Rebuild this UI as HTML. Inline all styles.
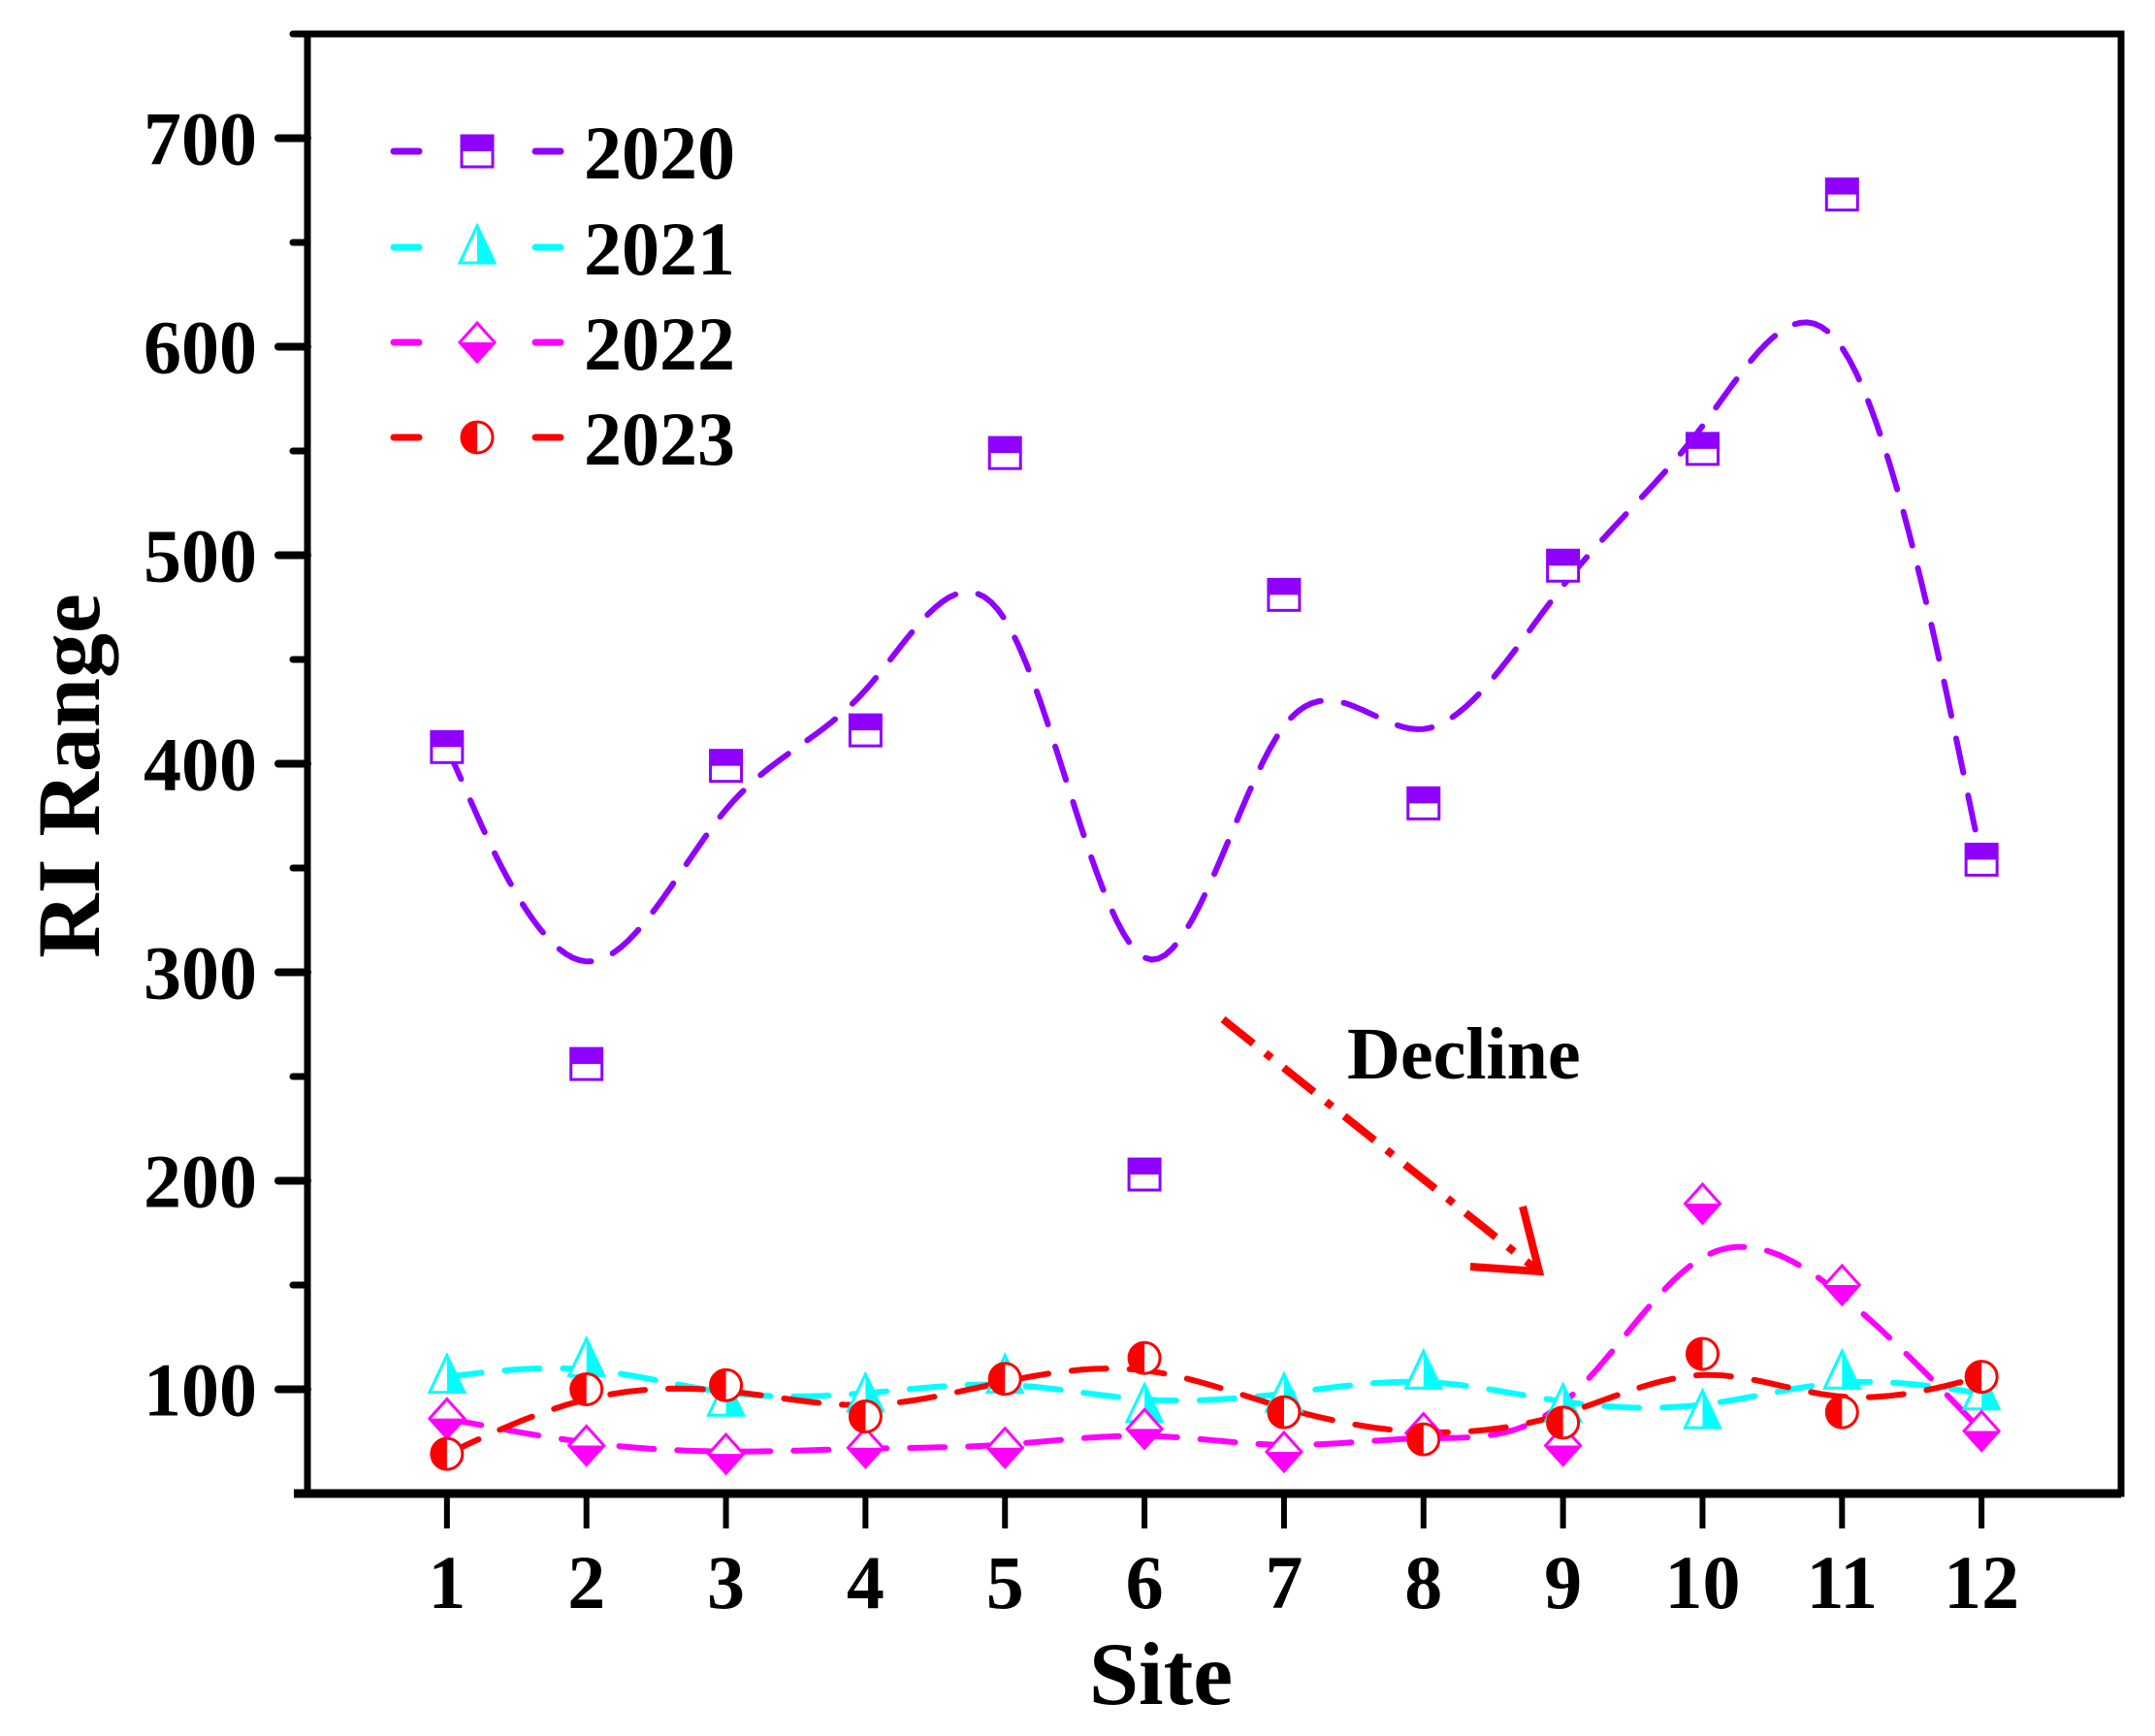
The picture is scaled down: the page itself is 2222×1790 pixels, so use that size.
<!DOCTYPE html>
<html><head><meta charset="utf-8"><style>
html,body{margin:0;padding:0;background:#fff;}
svg{display:block;}
text{font-family:"Liberation Serif",serif;font-weight:bold;fill:#000;}
</style></head><body>
<svg id="chart" width="2222" height="1790" viewBox="0 0 2222 1790" xmlns="http://www.w3.org/2000/svg">
<g id="lines"></g>
<g id="markers"></g>
<g id="axes"></g>
<g id="legend"></g>
<g id="annot">
  <line x1="1261" y1="1051" x2="1583" y2="1308" stroke="#f00" stroke-width="8" stroke-dasharray="40,16,8,16"/>
  <polyline points="1570,1244 1587,1311 1516,1306" fill="none" stroke="#f00" stroke-width="8"/>
  <text x="1389" y="1112" font-size="76">Decline</text>
</g>
</svg>
<script>
const sites = [1,2,3,4,5,6,7,8,9,10,11,12];
const years = ["2020","2021","2022","2023"];
const v2020 = [408,256,399,416,549,203,481,381,495,551,673,354];
const v2021 = [106,114,95,97,106,92,97,108,92,89,108,98];
const v2022 = [86,73,69,72,72,81,70,79,73,189,150,80];
const v2023 = [69,100,102,87,105,115,89,76,84,117,89,106];
const yTicks = [100,200,300,400,500,600,700];
const yMinor = [150,250,350,450,550,650];

const NS="http://www.w3.org/2000/svg";
const L=317,R=2187,T=35,B=1540;
const X0=0,X1=13,Y0=50,Y1=750;
const sx=v=>L+(v-X0)/(X1-X0)*(R-L);
const sy=v=>B-(v-Y0)/(Y1-Y0)*(B-T);
function mk(tag,attrs,parent){const e=document.createElementNS(NS,tag);for(const k in attrs)e.setAttribute(k,attrs[k]);parent.appendChild(e);return e;}
const colors=["#8f00ff","#00ffff","#ff00ff","#ff0000"];
const series=[v2020,v2021,v2022,v2023];
const shapes=["square","triangle","diamond","circle"];
const gl=document.getElementById('lines'),gm=document.getElementById('markers'),ga=document.getElementById('axes'),gleg=document.getElementById('legend');

function bspline(vals){
  const P=[vals[0],vals[0],...vals,vals[vals.length-1],vals[vals.length-1]];
  const X=[sites[0],sites[0],...sites,sites[sites.length-1],sites[sites.length-1]];
  let d="";
  for(let i=0;i<P.length-3;i++){
    for(let s=0;s<=20;s++){
      const t=s/20,t2=t*t,t3=t2*t;
      const b0=(1-t)**3/6,b1=(3*t3-6*t2+4)/6,b2=(-3*t3+3*t2+3*t+1)/6,b3=t3/6;
      const x=b0*X[i]+b1*X[i+1]+b2*X[i+2]+b3*X[i+3];
      const y=b0*P[i]+b1*P[i+1]+b2*P[i+2]+b3*P[i+3];
      d+=(d?"L":"M")+sx(x).toFixed(1)+","+sy(y).toFixed(1);
    }
  }
  return d;
}
function marker(shape,cx,cy,c,parent,name){
  const g=mk('g',{},parent);
  
  
  const r=16;
  if(shape==="square"){
    mk('rect',{x:cx-r,y:cy-r,width:2*r,height:2*r,fill:"#fff",stroke:c,"stroke-width":3},g);
    mk('rect',{x:cx-r,y:cy-r,width:2*r,height:r,fill:c},g);
  }else if(shape==="triangle"){
    mk('polygon',{points:`${cx},${cy-r-6} ${cx+r+2},${cy+r} ${cx-r-2},${cy+r}`,fill:"#fff",stroke:c,"stroke-width":3},g);
    mk('polygon',{points:`${cx},${cy-r-6} ${cx+r+2},${cy+r} ${cx},${cy+r}`,fill:c},g);
  }else if(shape==="diamond"){
    mk('polygon',{points:`${cx},${cy-r-4} ${cx+r+2},${cy} ${cx},${cy+r+4} ${cx-r-2},${cy}`,fill:"#fff",stroke:c,"stroke-width":3},g);
    mk('polygon',{points:`${cx-r-2},${cy} ${cx+r+2},${cy} ${cx},${cy+r+4}`,fill:c},g);
  }else{
    mk('circle',{cx:cx,cy:cy,r:r,fill:"#fff",stroke:c,"stroke-width":3},g);
    mk('path',{d:`M${cx},${cy-r} A${r},${r} 0 0 0 ${cx},${cy+r} Z`,fill:c},g);
  }
}
series.forEach((vals,si)=>{
  const p=mk('path',{d:bspline(vals),fill:"none",stroke:colors[si],"stroke-width":6,"stroke-dasharray":"36,24","stroke-linecap":"round"},gl);
  
  
});
series.forEach((vals,si)=>{
  vals.forEach((v,i)=>marker(shapes[si],sx(sites[i]),sy(v),colors[si],gm,'point-'+years[si]+'-site-'+sites[i]));
});
const fr=mk('rect',{x:L,y:T,width:R-L,height:B-T,fill:"none",stroke:"#000","stroke-width":7},ga);


const bx=mk('line',{x1:L-14,y1:B,x2:R,y2:B,stroke:"#000","stroke-width":9},ga);


yTicks.forEach(v=>{
  const t=mk('line',{x1:L-30,y1:sy(v),x2:L,y2:sy(v),stroke:"#000","stroke-width":8,"stroke-linecap":"round"},ga);
  
  
  const tx=mk('text',{x:L-52,y:sy(v)+27,"font-size":78,"text-anchor":"end"},ga);
  tx.textContent=v;
  
  
});
yMinor.forEach(v=>{
  const t=mk('line',{x1:L-15,y1:sy(v),x2:L,y2:sy(v),stroke:"#000","stroke-width":7,"stroke-linecap":"round"},ga);
  
  
});
const tT=mk('line',{x1:L-15,y1:T,x2:L,y2:T,stroke:"#000","stroke-width":7,"stroke-linecap":"round"},ga);


sites.forEach(s=>{
  const t=mk('line',{x1:sx(s),y1:B,x2:sx(s),y2:B+36,stroke:"#000","stroke-width":6},ga);
  
  
  const tx=mk('text',{x:sx(s),y:1658,"font-size":78,"text-anchor":"middle"},ga);
  tx.textContent=s;
  
  
});
const xt=mk('text',{x:1197,y:1757,"font-size":92,"text-anchor":"middle"},ga);
xt.textContent="Site";


const yt=mk('text',{x:0,y:0,"font-size":92,"text-anchor":"middle",transform:"translate(102,800) rotate(-90)"},ga);
yt.textContent="RI Range";


const legY=[156,255,353,451];
years.forEach((y,i)=>{
  const g=mk('g',{},gleg);
  
  
  mk('line',{x1:406,y1:legY[i],x2:432,y2:legY[i],stroke:colors[i],"stroke-width":7,"stroke-linecap":"round"},g);
  mk('line',{x1:552,y1:legY[i],x2:578,y2:legY[i],stroke:colors[i],"stroke-width":7,"stroke-linecap":"round"},g);
  marker(shapes[i],492,legY[i],colors[i],g,'legend-marker-'+y);
  const tx=mk('text',{x:602,y:legY[i]+28,"font-size":78},g);
  tx.textContent=y;
  
  
});
</script>
</body></html>
